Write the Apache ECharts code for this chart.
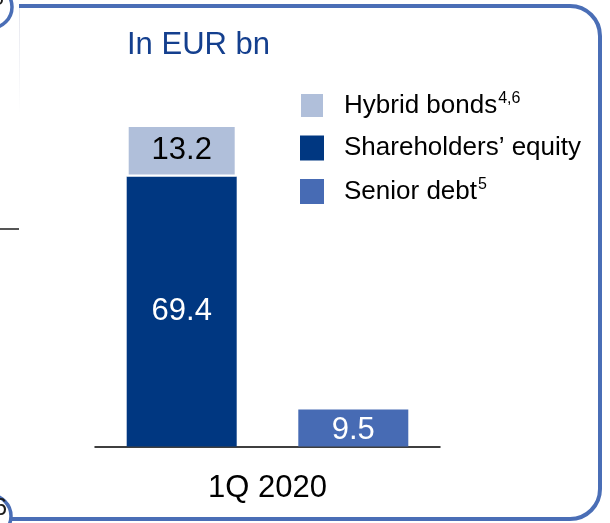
<!DOCTYPE html>
<html>
<head>
<meta charset="utf-8">
<script src="https://cdn.jsdelivr.net/npm/echarts@6/dist/echarts.min.js"></script>
<style>
html,body{margin:0;padding:0;background:#fff;}
#main{width:610px;height:523px;}
</style>
</head>
<body>
<div id="main"></div>
<script>
const categories = ['1Q 2020'];
const hybridBonds = [13.2];
const shareholdersEquity = [69.4];
const seniorDebt = [9.5];
const legendNames = ['Hybrid bonds', 'Shareholders’ equity', 'Senior debt'];
const legendSup = { 'Hybrid bonds': '4,6', 'Senior debt': '5' };
const titleText = 'In EUR bn';

const FONT = '"Liberation Sans", Arial, sans-serif';
const BORDER = '#4a6eb6';

const chart = echarts.init(document.getElementById('main'), null, { renderer: 'canvas' });

const borderStyle = { stroke: BORDER, lineWidth: 4, fill: null };

const option = {
  backgroundColor: '#fff',
  animation: false,
  textStyle: { fontFamily: FONT },
  title: {
    text: titleText,
    left: 127,
    top: 30,
    padding: 0,
    textStyle: { fontFamily: FONT, fontSize: 31, fontWeight: 'normal', color: '#143f8e' }
  },
  legend: {
    data: legendNames,
    orient: 'vertical',
    left: 299,
    top: 91,
    padding: 0,
    itemWidth: 24,
    itemHeight: 25,
    itemGap: 16,
    icon: 'rect',
    selectedMode: false,
    formatter: name => name + (legendSup[name] ? '{sup|' + legendSup[name] + '}' : ''),
    textStyle: {
      fontFamily: FONT,
      fontSize: 26,
      color: '#000',
      padding: [0, 0, 0, 15],
      rich: {
        sup: { fontFamily: FONT, fontSize: 16, color: '#000', padding: [0, 0, 13, 1] }
      }
    }
  },
  grid: { left: 95, right: 170, top: 125, bottom: 76.5, containLabel: false },
  xAxis: {
    type: 'category',
    data: categories,
    axisLine: { lineStyle: { color: '#000', width: 1.5 } },
    axisTick: { show: false },
    axisLabel: { fontFamily: FONT, fontSize: 31, color: '#000', margin: 26 }
  },
  yAxis: {
    type: 'value',
    show: false,
    min: 0,
    max: 'dataMax',
    splitLine: { show: false }
  },
  series: [
    {
      name: 'Shareholders’ equity',
      type: 'bar',
      stack: 'capital',
      data: shareholdersEquity,
      barWidth: 110,
      barGap: '56%',
      itemStyle: { color: '#003781' },
      label: { show: true, position: 'inside', fontFamily: FONT, fontSize: 31, color: '#fff' }
    },
    {
      name: 'Hybrid bonds',
      type: 'bar',
      stack: 'capital',
      data: hybridBonds,
      barWidth: 110,
      itemStyle: { color: '#b0bfda', borderColor: '#fff', borderWidth: 2 },
      label: { show: true, position: 'inside', fontFamily: FONT, fontSize: 31, color: '#000' }
    },
    {
      name: 'Senior debt',
      type: 'bar',
      stack: 'debt',
      data: seniorDebt,
      barWidth: 110,
      barGap: '56%',
      itemStyle: { color: '#476bb4' },
      label: { show: true, position: 'inside', fontFamily: FONT, fontSize: 31, color: '#fff', offset: [0, 2] }
    }
  ],
  graphic: [
    { type: 'line', silent: true, shape: { x1: 19, y1: 6, x2: 570, y2: 6 }, style: borderStyle },
    { type: 'arc', silent: true, shape: { cx: 570, cy: 36, r: 30, startAngle: -Math.PI / 2, endAngle: 0, clockwise: true }, style: borderStyle },
    { type: 'line', silent: true, shape: { x1: 600, y1: 36, x2: 600, y2: 489 }, style: borderStyle },
    { type: 'arc', silent: true, shape: { cx: 570, cy: 489, r: 30, startAngle: 0, endAngle: Math.PI / 2, clockwise: true }, style: borderStyle },
    { type: 'line', silent: true, shape: { x1: 570, y1: 519, x2: 11, y2: 519 }, style: borderStyle },
    {
      type: 'line',
      shape: { x1: 19.5, y1: 8, x2: 19.5, y2: 112 },
      style: {
        stroke: new echarts.graphic.LinearGradient(0, 0, 0, 1, [
          { offset: 0, color: 'rgba(210,212,225,0.6)' },
          { offset: 1, color: 'rgba(210,212,225,0)' }
        ]),
        lineWidth: 1
      },
      silent: true
    },
    {
      type: 'line',
      shape: { x1: 0, y1: 229, x2: 19, y2: 229 },
      style: { stroke: '#555', lineWidth: 2 },
      silent: true
    },
    {
      type: 'circle',
      shape: { cx: -9, cy: 7, r: 21 },
      style: { fill: '#fff', stroke: BORDER, lineWidth: 3.5 },
      silent: true
    },
    {
      type: 'text',
      style: { text: '6', x: 4, y: 10, fontFamily: FONT, fontSize: 22, fill: '#1a1a1a', align: 'right', verticalAlign: 'bottom' },
      silent: true
    },
    {
      type: 'circle',
      shape: { cx: -10, cy: 516, r: 21 },
      style: { fill: '#fff', stroke: BORDER, lineWidth: 3.5 },
      silent: true
    },
    {
      type: 'text',
      style: { text: '6', x: 7, y: 520, fontFamily: FONT, fontSize: 24, fill: '#1a1a1a', align: 'right', verticalAlign: 'bottom' },
      silent: true
    }
  ]
};

chart.setOption(option);
</script>
</body>
</html>
